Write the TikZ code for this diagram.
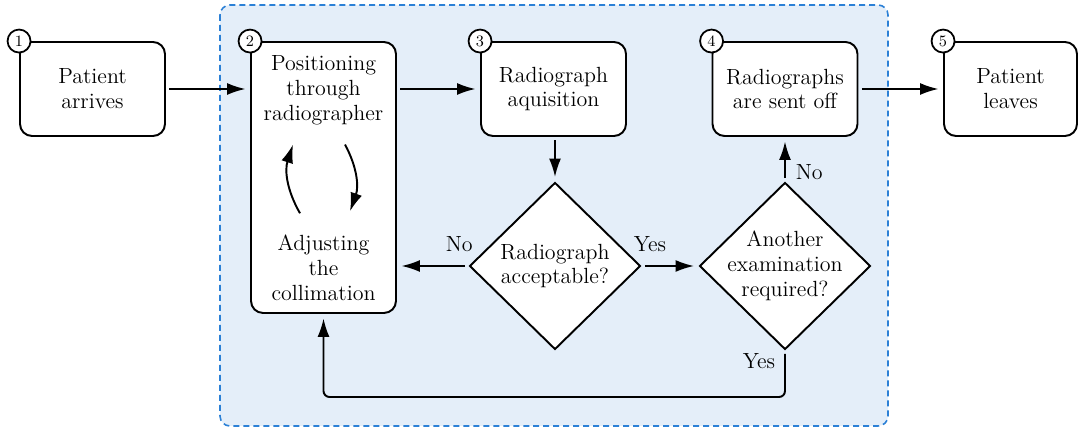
\documentclass[tikz,border=0pt]{standalone}
\usepackage{tikz}
\usetikzlibrary{shapes,shapes.geometric,arrows.meta}

\definecolor{regionblue}{HTML}{2B80D6}
\definecolor{regionfill}{HTML}{E4EEF9}

\begin{document}
\begin{tikzpicture}[x=0.02cm,y=-0.02cm,line width=1.1pt,
  >={Latex[length=3.7mm,width=2.4mm]},
  every node/.append style={font=\fontsize{12.5}{14.2}\selectfont}]
  \tikzstyle{stepbox} = [draw,fill=white,rounded corners=2.4mm,align=center,
    minimum width=2.9cm,minimum height=1.88cm,inner sep=0pt]
  \tikzstyle{word} = [align=center,color=black]
  \tikzstyle{decision} = [draw,fill=white,diamond,inner sep=0pt,
    minimum width=3.42cm,minimum height=3.34cm]
  \tikzstyle{num} = [draw,fill=white,circle,inner sep=0pt,minimum size=0.46cm,
    line width=1pt,font=\small]
  \tikzstyle{link} = [->,shorten <=0.7mm,shorten >=0.9mm]
  \useasboundingbox (0,0) rectangle (1081,428);
  % shaded part of the process
  \draw[regionblue,fill=regionfill,line width=0.9pt,
    dash pattern=on 1.2mm off 0.8mm,rounded corners=2mm] (220,5) rectangle (888,426);
  \node (step1) [stepbox] at (92.5,89) {Patient\\arrives};
  \node (step2) [stepbox,minimum height=5.42cm] at (323.5,177.5) {};
  \node (step2a) [word] at (323.5,90) {Positioning\\through\\radiographer};
  \node (step2b) [word] at (323.5,268) {Adjusting\\the\\collimation};
  \node (step3) [stepbox] at (553.5,89) {Radiograph\\aquisition};
  \node (step4) [stepbox] at (785,89) {Radiographs\\are sent off};
  \node (step5) [stepbox,minimum width=2.66cm] at (1010.5,89) {Patient\\leaves};
  \node (check1) [decision] at (555,266) {};
  \node (check1txt) [word] at (check1) {Radiograph\\acceptable?};
  \node (check2) [decision] at (785,266) {};
  \node (check2txt) [word] at (check2) {Another\\examination\\required?};
  \node (num1) [num] at (step1.north west) {1};
  \node (num2) [num] at (step2.north west) {2};
  \node (num3) [num] at (step3.north west) {3};
  \node (num4) [num] at (step4.north west) {4};
  \node (num5) [num] at (step5.north west) {5};
  \draw[link] (step1) -- (step1 -| step2.west);
  \draw[link] (step1 -| step2.east) -- (step3);
  \draw[link] (check1 |- step3.south) -- (check1);
  \draw[link] (check1) -- node[above=1.5mm,pos=0.13] {No} (check1 -| step2.east);
  \draw[link] (check1) -- node[above=1.5mm,pos=0.15] {Yes} (check2);
  \draw[link] (check2) -- node[right=0.8mm,pos=0.22] {No} (step4);
  \draw[link] (step4) -- (step5);
  \draw[link,rounded corners=1.2mm] (check2.south)
    -- node[left=0.6mm,pos=0.22] {Yes} (check2.south |- 0,397) -| (step2.south);
  % loop inside step 2
  \draw[->] ([xshift=-0.47cm,yshift=0.3cm]step2b.north)
    to[bend left=24] ([xshift=-0.61cm,yshift=-0.26cm]step2a.south);
  \draw[->] ([xshift=0.43cm,yshift=-0.26cm]step2a.south)
    to[bend left=24] ([xshift=0.53cm,yshift=0.34cm]step2b.north);
\end{tikzpicture}
\end{document}
